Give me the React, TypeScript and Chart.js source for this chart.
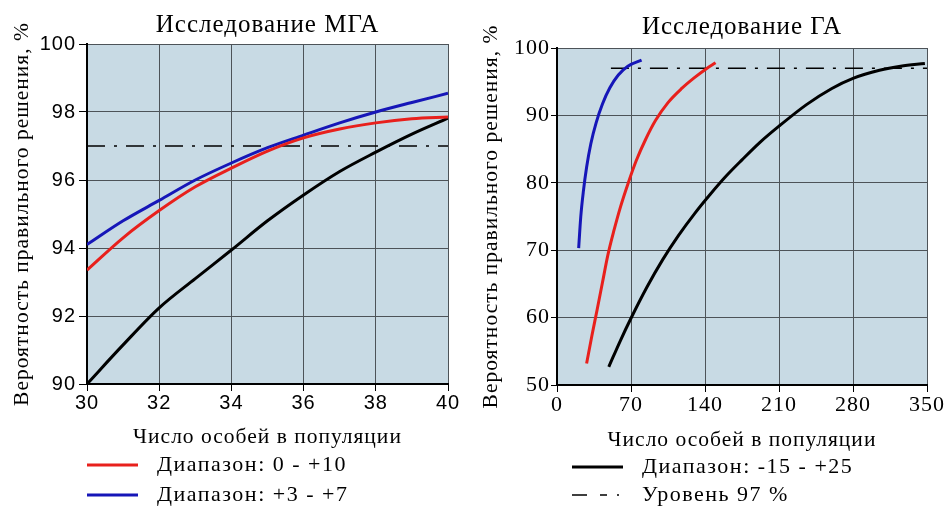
import React, { useEffect, useRef } from "react";
import { Chart, registerables } from "chart.js";

Chart.register(...registerables);

// ---------- data ----------
const mgaX = [30, 31, 32, 33, 34, 35, 36, 37, 38, 39, 40];
const mgaRed = [93.35, 94.3, 95.1, 95.8, 96.35, 96.85, 97.24, 97.5, 97.68, 97.8, 97.85];
const mgaBlue = [94.1, 94.8, 95.4, 96.0, 96.5, 96.95, 97.32, 97.68, 98.0, 98.28, 98.55];
const mgaBlack = [90.0, 91.15, 92.24, 93.1, 93.94, 94.8, 95.56, 96.25, 96.82, 97.35, 97.82];
const mgaLevelX = [30, 40];

const gaBlueX = [20.5, 22.5, 25, 28, 32, 37, 43, 50, 58, 67, 80];
const gaBlueY = [70.3, 75.0, 78.8, 82.3, 85.8, 88.9, 91.7, 94.1, 96.0, 97.3, 98.2];
const gaRedX = [28, 33, 38, 43, 48, 54, 60, 67, 75, 84, 93, 105, 118, 130, 141, 150];
const gaRedY = [53.2, 57.3, 61.2, 65.2, 69.2, 73.0, 76.4, 79.8, 83.3, 86.5, 89.2, 91.9, 94.0, 95.6, 96.9, 97.8];
const gaBlackX = [49, 60, 70, 85, 100, 115, 130, 145, 160, 175, 192, 210, 236, 260, 280, 305, 325, 348];
const gaBlackY = [52.7, 56.6, 59.9, 64.5, 68.6, 72.2, 75.4, 78.3, 81.0, 83.4, 86.0, 88.4, 91.6, 94.0, 95.5, 96.7, 97.3, 97.7];
const gaLevelX = [51, 350];

const levelValue = 97;

const mgaXTicks = { min: 30, max: 40, step: 2 };
const mgaYTicks = { min: 90, max: 100, step: 2 };
const gaXTicks = { min: 0, max: 350, step: 70 };
const gaYTicks = { min: 50, max: 100, step: 10 };

const labelRed = "Диапазон: 0 - +10";
const labelBlue = "Диапазон: +3 - +7";
const labelBlack = "Диапазон: -15 - +25";
const labelLevel = "Уровень 97 %";
const titleMga = "Исследование МГА";
const titleGa = "Исследование ГА";
const xTitle = "Число особей в популяции";
const yTitle = "Вероятность правильного решения, %";

// ---------- styles ----------
const RED = "#e8201c";
const BLUE = "#1616b8";
const BLACK = "#000000";
const BG = "#c8dae4";
const GRID = "#4d5358";
const SERIF = '"Liberation Serif", "Times New Roman", "DejaVu Serif", serif';
const SANS = '"Liberation Sans", Arial, sans-serif';
const DASH = [18, 9, 3, 9];

const zip = (xs: number[], ys: number[]) => xs.map((x, i) => ({ x, y: ys[i] }));

const bgPlugin = {
  id: "plotBg",
  beforeDraw(chart: any) {
    const { ctx, chartArea } = chart;
    if (!chartArea) return;
    ctx.save();
    ctx.fillStyle = BG;
    ctx.fillRect(chartArea.left, chartArea.top, chartArea.right - chartArea.left, chartArea.bottom - chartArea.top);
    ctx.restore();
    (ctx as any).letterSpacing = "1px";
  },
};

function curve(label: string, data: any[], color: string) {
  return {
    label,
    data,
    borderColor: color,
    backgroundColor: color,
    borderWidth: 3,
    pointRadius: 0,
    fill: false,
    cubicInterpolationMode: "monotone" as const,
  };
}

function levelLine(xs: number[]) {
  return {
    label: labelLevel,
    data: xs.map((x) => ({ x, y: levelValue })),
    borderColor: BLACK,
    borderWidth: 1.5,
    borderDash: DASH,
    pointRadius: 0,
    fill: false,
  };
}

function makeOptions(p: {
  title: string;
  titlePad: { top: number; bottom: number };
  padRight: number;
  yWidth: number;
  xHeight: number;
  yTitlePad: number;
  xTitlePadBottom: number;
  xt: { min: number; max: number; step: number };
  yt: { min: number; max: number; step: number };
  tickFont: string;
  tickSize: number;
  tickPadY: number;
  tickLenY: number;
}) {
  return {
    animation: false as const,
    responsive: false,
    layout: { padding: { left: 0, right: p.padRight, top: 0, bottom: 0 } },
    plugins: {
      legend: { display: false },
      tooltip: { enabled: false },
      title: {
        display: true,
        fullSize: false,
        text: p.title,
        color: "#000",
        font: { family: SERIF, size: 25, weight: "normal" as const },
        padding: p.titlePad,
      },
    },
    scales: {
      x: {
        type: "linear" as const,
        min: p.xt.min,
        max: p.xt.max,
        ticks: {
          stepSize: p.xt.step,
          color: "#000",
          font: { family: p.tickFont, size: p.tickSize },
          padding: 0,
          maxRotation: 0,
          autoSkip: false,
        },
        grid: { color: GRID, lineWidth: 1, tickColor: "#000", tickLength: 7 },
        border: { color: "#000", width: 2 },
        title: {
          display: true,
          text: xTitle,
          color: "#000",
          font: { family: SERIF, size: 21.5 },
          padding: { top: 0, bottom: p.xTitlePadBottom },
        },
        afterFit: (s: any) => {
          s.height = p.xHeight;
        },
      },
      y: {
        type: "linear" as const,
        min: p.yt.min,
        max: p.yt.max,
        ticks: {
          stepSize: p.yt.step,
          color: "#000",
          font: { family: p.tickFont, size: p.tickSize },
          padding: p.tickPadY,
          autoSkip: false,
        },
        grid: { color: GRID, lineWidth: 1, tickColor: "#000", tickLength: p.tickLenY },
        border: { color: "#000", width: 2 },
        title: {
          display: true,
          text: yTitle,
          color: "#000",
          font: { family: SERIF, size: 21.5 },
          padding: { top: p.yTitlePad, bottom: 0 },
        },
        afterFit: (s: any) => {
          s.width = p.yWidth;
        },
      },
    },
  };
}

function useChart(ref: React.RefObject<HTMLCanvasElement>, build: () => any) {
  useEffect(() => {
    if (!ref.current) return;
    const chart = new Chart(ref.current, build());
    return () => chart.destroy();
  }, []);
}

function LegendRow(props: { x: number; y: number; textX: number; label: string; color?: string; dashed?: boolean }) {
  const w = 51;
  return (
    <>
      <svg style={{ position: "absolute", left: props.x, top: props.y - 4 }} width={w} height={8}>
        <line
          x1={0}
          y1={4}
          x2={w}
          y2={4}
          stroke={props.dashed ? BLACK : props.color}
          strokeWidth={props.dashed ? 1.5 : 3}
          strokeDasharray={props.dashed ? "15 13 7 10 2 40" : undefined}
        />
      </svg>
      <div
        style={{
          position: "absolute",
          left: props.textX,
          top: props.y - 16,
          font: `22px ${SERIF}`,
          letterSpacing: "1.5px",
          lineHeight: "30px",
          color: "#000",
          whiteSpace: "nowrap",
        }}
      >
        {props.label}
      </div>
    </>
  );
}

export default function App() {
  const leftRef = useRef<HTMLCanvasElement>(null);
  const rightRef = useRef<HTMLCanvasElement>(null);

  useChart(leftRef, () => ({
    type: "line",
    data: {
      datasets: [
        curve(labelRed, zip(mgaX, mgaRed), RED),
        curve(labelBlue, zip(mgaX, mgaBlue), BLUE),
        curve(labelBlack, zip(mgaX, mgaBlack), BLACK),
        levelLine(mgaLevelX),
      ],
    },
    options: makeOptions({
      title: titleMga,
      titlePad: { top: 10, bottom: 4 },
      padRight: 26,
      yWidth: 87,
      xHeight: 66,
      yTitlePad: 9,
      xTitlePadBottom: 0,
      xt: mgaXTicks,
      yt: mgaYTicks,
      tickFont: SANS,
      tickSize: 20,
      tickPadY: 3,
      tickLenY: 8,
    }),
    plugins: [bgPlugin],
  }));

  useChart(rightRef, () => ({
    type: "line",
    data: {
      datasets: [
        curve(labelRed, zip(gaRedX, gaRedY), RED),
        curve(labelBlue, zip(gaBlueX, gaBlueY), BLUE),
        curve(labelBlack, zip(gaBlackX, gaBlackY), BLACK),
        levelLine(gaLevelX),
      ],
    },
    options: makeOptions({
      title: titleGa,
      titlePad: { top: 12, bottom: 6 },
      padRight: 21,
      yWidth: 83,
      xHeight: 70,
      yTitlePad: 4,
      xTitlePadBottom: 2,
      xt: gaXTicks,
      yt: gaYTicks,
      tickFont: SERIF,
      tickSize: 22,
      tickPadY: 1,
      tickLenY: 6,
    }),
    plugins: [bgPlugin],
  }));

  return (
    <div style={{ position: "fixed", left: 0, top: 0, width: 948, height: 508, background: "#fff", overflow: "hidden" }}>
      <canvas ref={leftRef} width={474} height={450} style={{ position: "absolute", left: 0, top: 0 }} />
      <canvas ref={rightRef} width={474} height={455} style={{ position: "absolute", left: 474, top: 0 }} />
      <LegendRow x={87} y={465} textX={157} label={labelRed} color={RED} />
      <LegendRow x={87} y={495} textX={157} label={labelBlue} color={BLUE} />
      <LegendRow x={572} y={467} textX={642} label={labelBlack} color={BLACK} />
      <LegendRow x={572} y={495} textX={642} label={labelLevel} dashed />
    </div>
  );
}
